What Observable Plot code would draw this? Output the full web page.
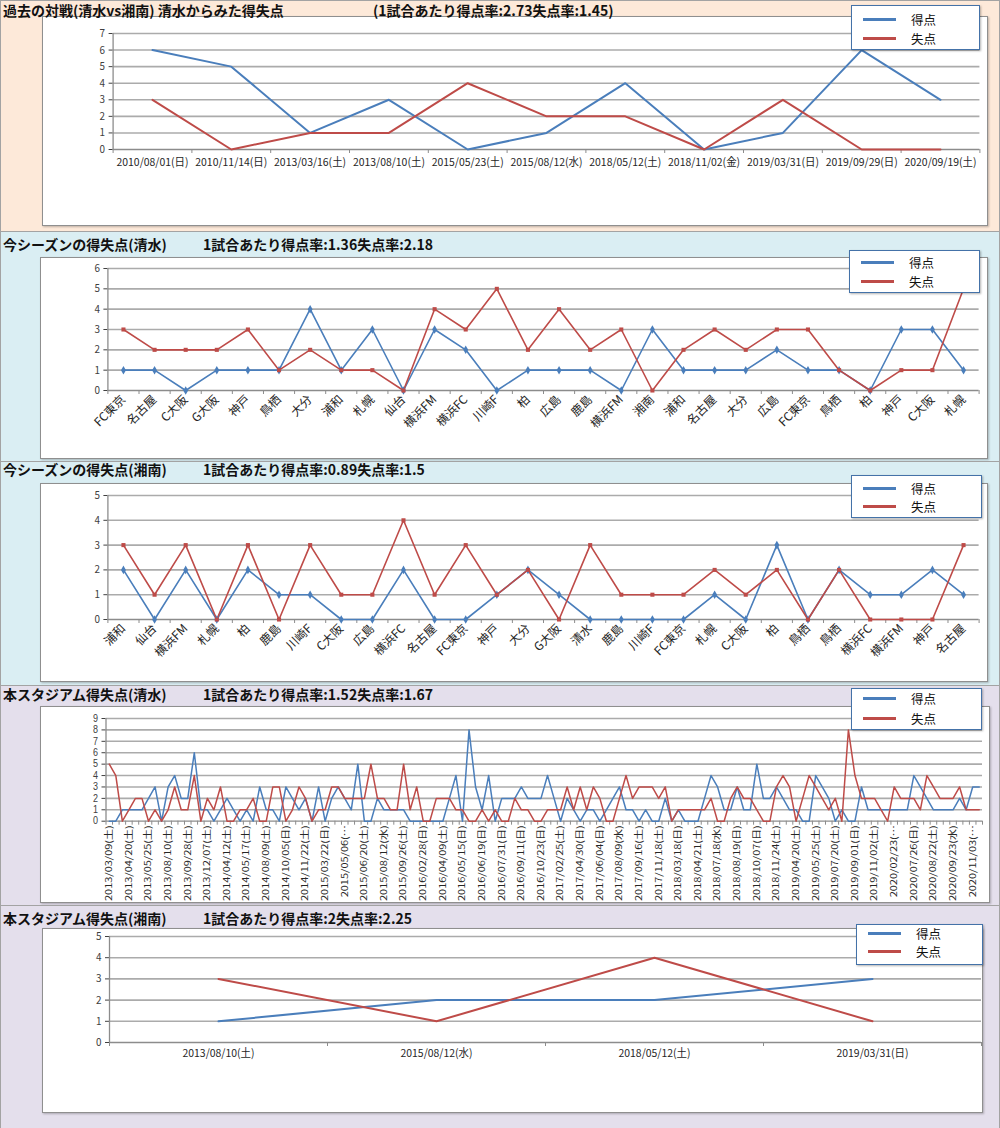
<!DOCTYPE html>
<html><head><meta charset="utf-8">
<script src="https://cdn.jsdelivr.net/npm/d3@7"></script>
<script src="https://cdn.jsdelivr.net/npm/@observablehq/plot@0.6"></script>
<style>
body{margin:0;background:#fff;}
#page{position:relative;width:1000px;height:1128px;overflow:hidden;font-family:"Noto Sans CJK JP",sans-serif;color:#111;}
.panel{position:absolute;left:0;width:1000px;border:1px solid #a3a3a3;box-sizing:border-box;}
.box{position:absolute;background:#fff;border:1px solid #8f8f8f;box-sizing:border-box;box-shadow:1px 1px 2px rgba(0,0,0,0.25);}
.chart{position:absolute;left:0;}
.title{position:absolute;font-weight:bold;font-size:14px;line-height:16px;white-space:nowrap;}
.legend{position:absolute;background:#fff;border:1.5px solid #4472a8;box-sizing:border-box;box-shadow:1px 1px 2px rgba(0,0,0,0.3);}
.lgline{position:absolute;height:3px;width:33px;left:11px;}
.lgtext{position:absolute;left:59px;font-size:12.5px;line-height:15px;}
</style></head>
<body><div id="page"></div>
<script>
// ---------- data ----------
const p1Dates = ["2010/08/01(日)","2010/11/14(日)","2013/03/16(土)","2013/08/10(土)","2015/05/23(土)","2015/08/12(水)","2018/05/12(土)","2018/11/02(金)","2019/03/31(日)","2019/09/29(日)","2020/09/19(土)"];
const p1For     = [6,5,1,3,0,1,4,0,1,6,3];
const p1Against = [3,0,1,1,4,2,2,0,3,0,0];

const p2Teams = ["FC東京","名古屋","C大阪","G大阪","神戸","鳥栖","大分","浦和","札幌","仙台","横浜FM","横浜FC","川崎F","柏","広島","鹿島","横浜FM","湘南","浦和","名古屋","大分","広島","FC東京","鳥栖","柏","神戸","C大阪","札幌"];
const p2For     = [1,1,0,1,1,1,4,1,3,0,3,2,0,1,1,1,0,3,1,1,1,2,1,1,0,3,3,1];
const p2Against = [3,2,2,2,3,1,2,1,1,0,4,3,5,2,4,2,3,0,2,3,2,3,3,1,0,1,1,5];

const p3Teams = ["浦和","仙台","横浜FM","札幌","柏","鹿島","川崎F","C大阪","広島","横浜FC","名古屋","FC東京","神戸","大分","G大阪","清水","鹿島","川崎F","FC東京","札幌","C大阪","柏","鳥栖","鳥栖","横浜FC","横浜FM","神戸","名古屋"];
const p3For     = [2,0,2,0,2,1,1,0,0,2,0,0,1,2,1,0,0,0,0,1,0,3,0,2,1,1,2,1];
const p3Against = [3,1,3,0,3,0,3,1,1,4,1,3,1,2,0,3,1,1,1,2,1,2,0,2,0,0,0,3];

const p4Labels = ["2013/03/09(土)","2013/04/20(土)","2013/05/25(土)","2013/08/10(土)","2013/09/28(土)","2013/12/07(土)","2014/04/12(土)","2014/05/17(土)","2014/08/09(土)","2014/10/05(日)","2014/11/22(土)","2015/03/22(日)","2015/05/06(…","2015/06/20(土)","2015/08/12(水)","2015/09/26(土)","2016/02/28(日)","2016/04/09(土)","2016/05/15(日)","2016/06/19(日)","2016/07/31(日)","2016/09/11(日)","2016/10/23(日)","2017/02/25(土)","2017/04/30(日)","2017/06/04(日)","2017/08/09(水)","2017/09/16(土)","2017/11/18(土)","2018/03/18(日)","2018/04/21(土)","2018/07/18(水)","2018/08/19(日)","2018/10/07(日)","2018/11/24(土)","2019/04/20(土)","2019/05/25(土)","2019/07/20(土)","2019/09/01(日)","2019/11/02(土)","2020/02/23(…","2020/07/26(日)","2020/08/22(土)","2020/09/23(水)","2020/11/03(…"];
const p4For = [0,0,1,1,1,1,2,3,0,3, 4,2,2,6,1,1,0,1,2,1, 0,1,0,3,1,1,0,3,2,1, 2,0,3,0, 2,3,2,1,5,0,
  0,2,1,1,1,1,0,0,0,0, 0,0,2,4,0,8,3,1,4,0, 2,2,2,3,2,2,2,4,2, 0,2,1,0,1,1,0,1,2,3,1,
  1,0,1,0,0,2,0,1,0,0, 0,2,4,3,1,1,3,1,1,5, 2,2,3,2,1,1,0,0,4,3, 2,0,1,0,0,3,1,1,1,1,
  1,1,1,4,3,2,1,1,1,1, 2,1,3,3];
const p4Against = [5,4,0,1,2,2,0,1,0,1, 3,1,1,4,0,2,1,3,0,0, 1,1,2,0,0,3,3,0,1,3, 2,0,1,1, 3,3,2,2,2,2,
  5,2,2,1,1,5,1,3,0,0, 2,2,2,1,1,0,0,1,0,1, 0,0,2,1,1,0,0,1,1, 1,3,1,3,1,3,2,0,0,2,4,
  2,3,3,3,2,3,0,1,1,1, 1,1,2,0,0,2,3,2,2,1, 0,0,3,4,3,0,2,4,3,2, 1,2,0,8,4,2,2,2,1,0,
  3,2,2,2,1,4,3,2,2,2, 3,1,1,1];

const p5Dates   = ["2013/08/10(土)","2015/08/12(水)","2018/05/12(土)","2019/03/31(日)"];
const p5For     = [1,2,2,3];
const p5Against = [3,1,4,1];

const titleMain = ["過去の対戦(清水vs湘南) 清水からみた得失点","今シーズンの得失点(清水)","今シーズンの得失点(湘南)","本スタジアム得失点(清水)","本スタジアム得失点(湘南)"];
const titleRate = ["(1試合あたり得点率:2.73失点率:1.45)","1試合あたり得点率:1.36失点率:2.18","1試合あたり得点率:0.89失点率:1.5","1試合あたり得点率:1.52失点率:1.67","1試合あたり得点率:2失点率:2.25"];
const seriesNames = ["得点","失点"];

// ---------- style ----------
const BLUE = "#4a7ebb", RED = "#be4b48";

function squish(nodes, sx, sy = 1) {
  if (sx === 1 && sy === 1) return;
  nodes.forEach(t => {
    const tr = t.getAttribute("transform");
    if (tr && /^\s*translate\(/.test(tr)) {
      t.setAttribute("transform", tr.replace(/^\s*(translate\([^)]*\))/, `$1 scale(${sx},${sy})`));
    } else {
      const x = +t.getAttribute("x") || 0, y = +t.getAttribute("y") || 0;
      t.removeAttribute("x"); t.removeAttribute("y");
      t.setAttribute("transform", `translate(${x},${y}) scale(${sx},${sy}) ${tr || ""}`);
    }
  });
}

const page = document.getElementById("page");
function el(tag, cls, style, html) {
  const e = document.createElement(tag);
  if (cls) e.className = cls;
  if (style) e.setAttribute("style", style);
  if (html != null) e.textContent = html;
  page.appendChild(e);
  return e;
}

const panels = [
  {top:0, height:231, bg:"#fde9d9", box:[42,16,988,226], titleY:2, rateX:373, leg:[851,5,129,45,14,33],
   n:11, yMax:7, yFont:11, forV:p1For, against:p1Against, labels:p1Dates, step:1,
   m:[33,20.6,82,112.6], lab:{size:11, pad:9, rotate:0, sx:0.95}, markers:false, lw:2},
  {top:231, height:230, bg:"#daeef3", box:[40,257,988,459], titleY:236, rateX:203, leg:[849,250,131,43,12,31],
   n:28, yMax:6, yFont:11, forV:p2For, against:p2Against, labels:p2Teams, step:1,
   m:[37,21.4,71,107.4], lab:{size:12, pad:7, rotate:-45, sx:1}, markers:true, lw:1.6},
  {top:461, height:224, bg:"#daeef3", box:[40,483,988,682], titleY:461, rateX:203, leg:[851,475,131,43,13,31],
   n:28, yMax:5, yFont:11, forV:p3For, against:p3Against, labels:p3Teams, step:1,
   m:[34,21.4,66,107.4], lab:{size:12, pad:7, rotate:-45, sx:1}, markers:true, lw:1.6},
  {top:685, height:220, bg:"#e4dfec", box:[40,706,990,903], titleY:686, rateX:203, leg:[851,688,131,42,10,30],
   n:134, yMax:9, yFont:10, yFamily:"'Liberation Sans', sans-serif", forV:p4For, against:p4Against, labels:null, step:3,
   m:[33,18,84.3,105.5], lab:{size:11, pad:4, rotate:-90, sx:0.8}, markers:false, lw:1.5},
  {top:905, height:223, bg:"#e4dfec", box:[42,928,983,1113], titleY:910, rateX:203, leg:[856,924,127,41,9,27],
   n:4, yMax:5, yFont:11, forV:p5For, against:p5Against, labels:p5Dates, step:1,
   m:[31,19,86,109], lab:{size:11, pad:7, rotate:0, sx:0.95}, markers:false, lw:2}
];

panels.forEach((p, k) => {
  el("div", "panel", `top:${p.top}px;height:${p.height + 1}px;background:${p.bg};`);
  const [bl, bt, br, bb] = p.box;
  el("div", "box", `left:${bl}px;top:${bt}px;width:${br - bl}px;height:${bb - bt}px;`);

  const rows = d3.range(p.n).map(i => ({i, f: p.forV[i], a: p.against[i]}));
  const ticks = d3.range(0, p.n, p.step);
  const fmt = p.labels ? (d => p.labels[d]) : (d => p4Labels[d / 3]);
  const rotated = p.lab.rotate !== 0;
  const labelAxisOpts = {ticks, tickFormat: fmt, tickSize: 0, tickPadding: p.lab.pad, fontSize: p.lab.size,
    color: "#262626", label: null};
  if (rotated) Object.assign(labelAxisOpts, {rotate: p.lab.rotate, textAnchor: "end", lineAnchor: "middle"});
  const yAxisOpts = {ticks: d3.range(0, p.yMax + 1), tickSize: 4, tickPadding: 4, fontSize: p.yFont, color: "#404040", label: null, tickFormat: d3.format("d")};
  if (p.yFamily) yAxisOpts.fontFamily = p.yFamily;

  const marks = [
    Plot.gridY(d3.range(1, p.yMax + 1), {stroke: "#ababab", strokeOpacity: 1, strokeWidth: 1.6}),
    Plot.axisX({ticks: d3.range(p.n + 1).map(i => i - 0.5), tickSize: 4, tickFormat: () => "", color: "#8c8c8c", label: null}),
    Plot.axisX(labelAxisOpts),
    Plot.axisY(yAxisOpts),
    Plot.ruleY([0], {stroke: "#8c8c8c", strokeWidth: 1.3}),
    Plot.ruleX([-0.5], {stroke: "#8c8c8c", strokeWidth: 1.3}),
    Plot.line(rows, {x: "i", y: "f", stroke: BLUE, strokeWidth: p.lw}),
    Plot.line(rows, {x: "i", y: "a", stroke: RED, strokeWidth: p.lw})
  ];
  if (p.markers) {
    marks.push(Plot.dot(rows, {x: "i", y: "f", symbol: "diamond", fill: BLUE, r: 2.6}));
    marks.push(Plot.dot(rows, {x: "i", y: "a", symbol: "square", fill: RED, r: 2.3}));
  }
  const svg = Plot.plot({
    width: 1000, height: p.height,
    marginTop: p.m[0], marginRight: p.m[1], marginBottom: p.m[2], marginLeft: p.m[3],
    x: {type: "linear", domain: [-0.5, p.n - 0.5]},
    y: {type: "linear", domain: [0, p.yMax]},
    style: {background: "transparent", fontFamily: "'Noto Sans CJK JP', sans-serif", overflow: "visible"},
    marks
  });
  squish(svg.querySelectorAll('g[aria-label="x-axis tick label"] text'), p.lab.sx);
  squish(svg.querySelectorAll('g[aria-label="y-axis tick label"] text'), 0.9);
  const wrap = el("div", "chart", `top:${p.top}px;width:1000px;height:${p.height}px;`);
  wrap.appendChild(svg);

  const [ll, lt, lw, lh, r1, r2] = p.leg;
  const lg = el("div", "legend", `left:${ll}px;top:${lt}px;width:${lw}px;height:${lh}px;`);
  [[BLUE, r1, seriesNames[0]], [RED, r2, seriesNames[1]]].forEach(([c, r, name]) => {
    const ln = document.createElement("div"); ln.className = "lgline";
    ln.setAttribute("style", `top:${r - 2.5}px;background:${c};`); lg.appendChild(ln);
    const tx = document.createElement("div"); tx.className = "lgtext";
    tx.setAttribute("style", `top:${r - 8.5}px;`); tx.textContent = name; lg.appendChild(tx);
  });

  el("div", "title", `left:3px;top:${p.titleY}px;`, titleMain[k]);
  el("div", "title", `left:${p.rateX}px;top:${p.titleY}px;`, titleRate[k]);
});
</script></body></html>
